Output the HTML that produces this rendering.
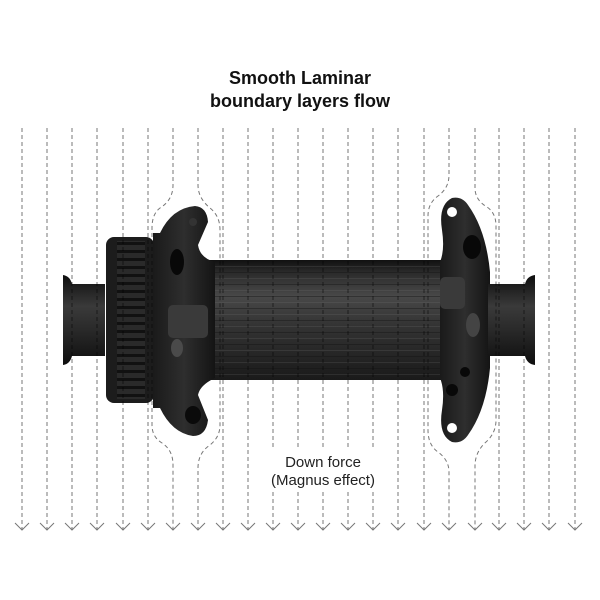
<!DOCTYPE html>
<html><head><meta charset="utf-8"><style>
html,body{margin:0;padding:0;background:#fff;}
svg{display:block}
</style></head><body>
<svg width="600" height="600" viewBox="0 0 600 600" xmlns="http://www.w3.org/2000/svg">
<defs>
<linearGradient id="body" x1="0" y1="0" x2="0" y2="1">
<stop offset="0" stop-color="#111"/><stop offset="0.1" stop-color="#2a2a2a"/>
<stop offset="0.3" stop-color="#484848"/><stop offset="0.55" stop-color="#333"/>
<stop offset="1" stop-color="#1a1a1a"/></linearGradient>
<linearGradient id="cap" x1="0" y1="0" x2="0" y2="1">
<stop offset="0" stop-color="#0e0e0e"/><stop offset="0.35" stop-color="#3a3a3a"/>
<stop offset="0.6" stop-color="#2a2a2a"/><stop offset="1" stop-color="#0e0e0e"/></linearGradient>
<linearGradient id="fl" x1="0" y1="0" x2="1" y2="0">
<stop offset="0" stop-color="#1a1a1a"/><stop offset="0.5" stop-color="#2e2e2e"/><stop offset="1" stop-color="#141414"/></linearGradient>
<pattern id="teeth" width="28" height="8" patternUnits="userSpaceOnUse" y="237">
<rect width="28" height="8" fill="#2a2a2a"/><rect y="5" width="28" height="3" fill="#111"/></pattern>
<pattern id="ribs" width="240" height="12" patternUnits="userSpaceOnUse" y="260">
<rect y="0" width="240" height="1" fill="#111" opacity="0.4"/><rect y="6" width="240" height="1" fill="#777" opacity="0.2"/></pattern>
</defs>
<text x="300" y="84" font-family="Liberation Sans, sans-serif" font-weight="bold" font-size="18" text-anchor="middle" fill="#111">Smooth Laminar</text>
<text x="300" y="107" font-family="Liberation Sans, sans-serif" font-weight="bold" font-size="18" text-anchor="middle" fill="#111">boundary layers flow</text>

<g>
<path d="M63,275 Q70,276 72,284 L105,284 L105,356 L72,356 Q70,364 63,365 Z" fill="url(#cap)"/>
<rect x="106" y="237" width="48" height="166" rx="8" fill="#1c1c1c"/>
<rect x="117" y="241" width="28" height="158" fill="url(#teeth)"/>
<rect x="200" y="260" width="245" height="120" fill="url(#body)"/>
<rect x="200" y="260" width="245" height="120" fill="url(#ribs)"/>
<path d="M153,233 L160,233 Q172,208 195,206 Q207,207 208,222 L198,245 Q200,258 215,262 L215,378 Q200,385 198,395 L208,420 Q206,436 193,436 Q172,433 160,408 L153,408 Z" fill="url(#fl)"/>
<ellipse cx="177" cy="262" rx="7" ry="13" fill="#080808"/>
<circle cx="193" cy="222" r="4" fill="#333"/>
<ellipse cx="193" cy="415" rx="8" ry="9" fill="#0a0a0a"/>
<rect x="168" y="305" width="40" height="33" rx="5" fill="#3a3a3a"/>
<ellipse cx="177" cy="348" rx="6" ry="9" fill="#4a4a4a"/>
<path d="M440,262 Q445,250 442,230 Q438,205 452,198 Q462,196 468,205 Q486,230 490,272 L490,368 Q486,410 468,435 Q462,444 452,442 Q438,435 442,410 Q445,390 440,378 Z" fill="url(#fl)"/>
<circle cx="452" cy="212" r="5" fill="#fff"/>
<circle cx="452" cy="428" r="5" fill="#fff"/>
<ellipse cx="472" cy="247" rx="9" ry="12" fill="#080808"/>
<rect x="440" y="277" width="25" height="32" rx="5" fill="#3a3a3a"/>
<ellipse cx="473" cy="325" rx="7" ry="12" fill="#444"/>
<circle cx="465" cy="372" r="5" fill="#080808"/>
<circle cx="452" cy="390" r="6" fill="#080808"/>
<path d="M488,284 L525,284 Q527,276 535,275 L535,365 Q527,364 525,356 L488,356 Z" fill="url(#cap)"/>
</g>

<g fill="none" stroke="#777" stroke-width="1" stroke-dasharray="4,3" style="mix-blend-mode:multiply">
<path d="M22,128V530"/><path d="M47,128V530"/><path d="M72,128V530"/><path d="M97,128V530"/><path d="M123,128V530"/><path d="M148,128V530"/>
<path d="M173,128V185Q173,200 160,208Q152,214 152,228V425Q152,437 162,443Q173,450 173,465V530"/>
<path d="M198,128V185Q198,198 210,208Q220,216 220,230V425Q220,437 210,445Q198,453 198,468V530"/>
<path d="M223,128V530"/><path d="M248,128V530"/>
<path d="M273,128V447M273,492V530"/><path d="M298,128V447M298,492V530"/><path d="M323,128V447M323,492V530"/><path d="M348,128V447M348,492V530"/><path d="M373,128V447M373,492V530"/>
<path d="M398,128V530"/><path d="M424,128V530"/>
<path d="M449,128V175Q449,188 438,196Q428,203 428,216V430Q428,445 438,452Q449,460 449,472V530"/>
<path d="M475,128V188Q475,200 487,207Q496,213 496,226V420Q496,433 486,442Q475,452 475,466V530"/>
<path d="M499,128V530"/><path d="M524,128V530"/><path d="M549,128V530"/><path d="M575,128V530"/>
</g>
<g fill="none" stroke="#777" stroke-width="1">
<path d="M15,523l7,7l7,-7M40,523l7,7l7,-7M65,523l7,7l7,-7M90,523l7,7l7,-7M116,523l7,7l7,-7M141,523l7,7l7,-7M166,523l7,7l7,-7M191,523l7,7l7,-7M216,523l7,7l7,-7M241,523l7,7l7,-7M266,523l7,7l7,-7M291,523l7,7l7,-7M316,523l7,7l7,-7M341,523l7,7l7,-7M366,523l7,7l7,-7M391,523l7,7l7,-7M417,523l7,7l7,-7M442,523l7,7l7,-7M468,523l7,7l7,-7M492,523l7,7l7,-7M517,523l7,7l7,-7M542,523l7,7l7,-7M568,523l7,7l7,-7"/>
</g>
<text x="323" y="467" font-family="Liberation Sans, sans-serif" font-size="15" text-anchor="middle" fill="#222">Down force</text>
<text x="323" y="485" font-family="Liberation Sans, sans-serif" font-size="15" text-anchor="middle" fill="#222">(Magnus effect)</text>
</svg>
</body></html>
